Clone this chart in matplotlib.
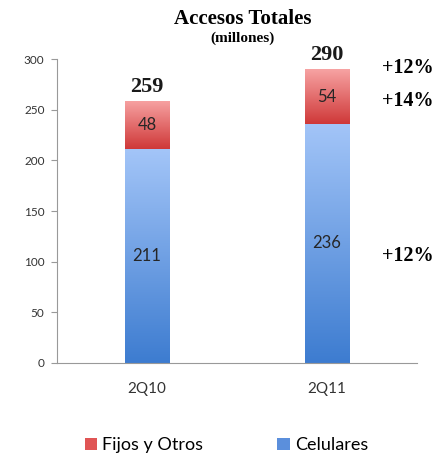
import numpy as np
import matplotlib
matplotlib.use("Agg")
import matplotlib.pyplot as plt
from matplotlib.colors import LinearSegmentedColormap

periodos = ["2Q10", "2Q11"]
celulares = [211, 236]
fijos = [48, 54]
totales = [259, 290]
variaciones = ["+12%", "+14%", "+12%"]

plt.rcParams['font.family'] = ['Lato', 'DejaVu Sans']
serif = ['Liberation Serif', 'DejaVu Serif']

fig = plt.figure(figsize=(4.43, 4.55), dpi=100)
ax = fig.add_axes([0.1287, 0.2022, 0.8126, 0.6681])

x = np.arange(len(periodos))
w = 0.25
b_cel = ax.bar(x, celulares, w, color='#5b8fdc', label='Celulares')
b_fij = ax.bar(x, fijos, w, bottom=celulares, color='#e05555', label='Fijos y Otros')

# degradado vertical dentro de cada barra
cmap_azul = LinearSegmentedColormap.from_list('azul', ['#3d7cd0', '#a3c5f8'])
cmap_rojo = LinearSegmentedColormap.from_list('rojo', ['#cf3838', '#f7a3a3'])
grad = np.linspace(0, 1, 256).reshape(-1, 1)
for bars, cmap in [(b_cel, cmap_azul), (b_fij, cmap_rojo)]:
    for p in bars:
        x0, y0 = p.get_x(), p.get_y()
        x1, y1 = x0 + p.get_width(), y0 + p.get_height()
        im = ax.imshow(grad, cmap=cmap, origin='lower', aspect='auto',
                       extent=[x0, x1, y0, y1], zorder=2)
        im.set_clip_path(p)

for i in range(len(periodos)):
    ax.text(x[i], celulares[i] / 2, str(celulares[i]), ha='center', va='center',
            fontsize=12, color='#262626', zorder=3)
    ax.text(x[i], celulares[i] + fijos[i] / 2, str(fijos[i]), ha='center', va='center',
            fontsize=12, color='#262626', zorder=3)
    ax.text(x[i], totales[i] + 4, str(totales[i]), ha='center', va='bottom',
            fontsize=16, fontweight='bold', family=serif, color='#1a1a1a')

# variaciones a la derecha
ax.text(1.45, totales[1] + 1, variaciones[0], ha='center', va='center',
        fontsize=14.5, fontweight='bold', family=serif, clip_on=False)
ax.text(1.45, celulares[1] + fijos[1] / 2 - 4, variaciones[1], ha='center', va='center',
        fontsize=14.5, fontweight='bold', family=serif, clip_on=False)
ax.text(1.45, celulares[1] / 2 - 12, variaciones[2], ha='center', va='center',
        fontsize=14.5, fontweight='bold', family=serif, clip_on=False)

ax.set_xlim(-0.5, 1.5)
ax.set_ylim(0, 300)
ax.set_xticks(x)
ax.set_xticklabels(periodos, fontsize=11, color='#333333')
ax.set_yticks(range(0, 301, 50))
ax.tick_params(axis='y', labelsize=8.5, colors='#333333', length=4, color='#999999', pad=5)
ax.tick_params(axis='x', length=0, pad=14)
for s in ['top', 'right']:
    ax.spines[s].set_visible(False)
ax.spines['left'].set_color('#999999')
ax.spines['bottom'].set_color('#999999')

fig.text(0.547, 0.958, 'Accesos Totales', ha='center', va='center',
         fontsize=15, fontweight='bold', family=serif)
fig.text(0.547, 0.916, '(millones)', ha='center', va='center',
         fontsize=11, fontweight='bold', family=serif)

h, l = ax.get_legend_handles_labels()
ax.legend([h[1], h[0]], [l[1], l[0]], loc='center', bbox_to_anchor=(0.471, -0.27),
          ncol=2, frameon=False, fontsize=13, handlelength=0.67, handleheight=0.67,
          columnspacing=4.1, handletextpad=0.3)

fig.savefig('out.png', dpi=100)
